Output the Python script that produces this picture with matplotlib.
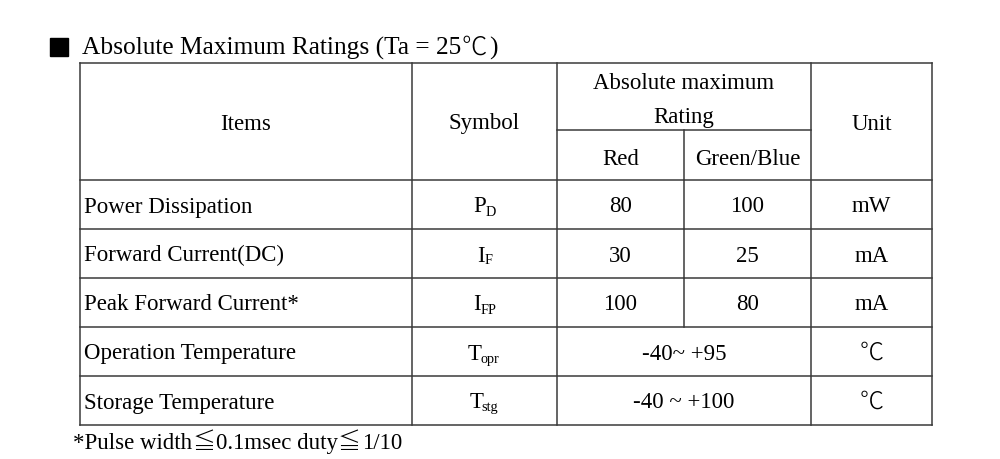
import matplotlib.pyplot as plt
from matplotlib.patches import Rectangle

plt.rcParams['font.family'] = ['Liberation Serif', 'Noto Sans CJK JP', 'DejaVu Serif']

# 표 데이터
title = 'Absolute Maximum Ratings (Ta = 25'
title_unit = '℃'
footnote_parts = ['*Pulse width', '≦', '0.1msec duty', '≦', '1/10']
items = ['Power Dissipation', 'Forward Current(DC)', 'Peak Forward Current*',
         'Operation Temperature', 'Storage Temperature']
symbols = [('P', 'D'), ('I', 'F'), ('I', 'FP'), ('T', 'opr'), ('T', 'stg')]
red = ['80', '30', '100', None, None]
green_blue = ['100', '25', '80', None, None]
temp_range = [None, None, None, '-40~ +95', '-40 ~ +100']
units = ['mW', 'mA', 'mA', '℃', '℃']

# 레이아웃 (픽셀 단위)
col_x = [80, 412, 557, 684, 811, 932]
top, sub_y, head_bot = 63, 130, 180
row_h = 49
line_c = '#3a3a3a'
lw = 1.1
fs = 16.5
base_off = 8  # 셀 중앙에서 기준선까지
thin = dict(family=['Noto Sans CJK JP'], fontweight='light')

fig = plt.figure(figsize=(10, 4.59), dpi=100)
ax = fig.add_axes([0, 0, 1, 1])
ax.set_xlim(0, 1000)
ax.set_ylim(459, 0)
ax.axis('off')
renderer = fig.canvas.get_renderer()

n = len(items)
bottom = head_bot + n * row_h

# 외곽선 및 세로선
for x in [col_x[0], col_x[1], col_x[2], col_x[4], col_x[5]]:
    ax.plot([x, x], [top, bottom], color=line_c, lw=lw)
ax.plot([col_x[3], col_x[3]], [sub_y, head_bot], color=line_c, lw=lw)
ax.plot([col_x[0], col_x[5]], [top, top], color=line_c, lw=lw)
ax.plot([col_x[2], col_x[4]], [sub_y, sub_y], color=line_c, lw=lw)
for i in range(n + 1):
    y = head_bot + i * row_h
    ax.plot([col_x[0], col_x[5]], [y, y], color=line_c, lw=lw)
for i in range(n):
    if temp_range[i] is None:
        y0 = head_bot + i * row_h
        ax.plot([col_x[3], col_x[3]], [y0, y0 + row_h], color=line_c, lw=lw)

def cx(a, b):
    return (col_x[a] + col_x[b]) / 2

def ctext(x, y, s, **kw):
    kw.setdefault('fontsize', fs)
    return ax.text(x, y, s, ha='center', va='baseline', **kw)

# 헤더
hy = (top + head_bot) / 2 + base_off
ctext(cx(0, 1), hy, 'Items')
ctext(cx(1, 2), hy, 'Symbol')
ctext(cx(4, 5), hy, 'Unit')
ctext(cx(2, 4), 89, 'Absolute maximum')
ctext(cx(2, 4), 123, 'Rating')
ctext(cx(2, 3), (sub_y + head_bot) / 2 + base_off + 2, 'Red')
ctext(cx(3, 4), (sub_y + head_bot) / 2 + base_off + 2, 'Green/Blue')

# 데이터 행
for i in range(n):
    y = head_bot + i * row_h + row_h / 2 + base_off
    ax.text(col_x[0] + 4, y, items[i], ha='left', va='baseline', fontsize=fs)
    # 기호 + 아래첨자
    main, sub = symbols[i]
    t1 = ax.text(0, y, main, ha='left', va='baseline', fontsize=fs)
    t2 = ax.text(0, y + 3, sub, ha='left', va='baseline', fontsize=fs * 0.62)
    w1 = t1.get_window_extent(renderer).width
    w2 = t2.get_window_extent(renderer).width
    x0 = cx(1, 2) - (w1 + w2) / 2
    t1.set_x(x0)
    t2.set_x(x0 + w1 - (2 if main == 'T' else 0))
    if temp_range[i] is None:
        ctext(cx(2, 3), y, red[i])
        ctext(cx(3, 4), y, green_blue[i])
    else:
        ctext(cx(2, 4), y, temp_range[i])
    if units[i] == '℃':
        ctext(cx(4, 5), y, units[i], fontsize=fs * 1.05, **thin)
    else:
        ctext(cx(4, 5), y, units[i])

# 제목
ax.add_patch(Rectangle((50, 38), 18, 18, color='black'))
tt = ax.text(82, 55, title, ha='left', va='baseline', fontsize=18.3)
wt = tt.get_window_extent(renderer).width
tu = ax.text(82 + wt, 55, title_unit, ha='left', va='baseline', fontsize=18.3, **thin)
wu = tu.get_window_extent(renderer).width
ax.text(82 + wt + wu + 2, 55, ')', ha='left', va='baseline', fontsize=18.3)

# 각주 (≦ 기호는 가는 글꼴로)
fx = 73
for part in footnote_parts:
    kw = thin if part == '≦' else {}
    t = ax.text(fx, bottom + 24, part, ha='left', va='baseline', fontsize=fs, **kw)
    fx += t.get_window_extent(renderer).width + (1 if part == '≦' else 0)

fig.savefig('out.png', dpi=100, facecolor='white')
